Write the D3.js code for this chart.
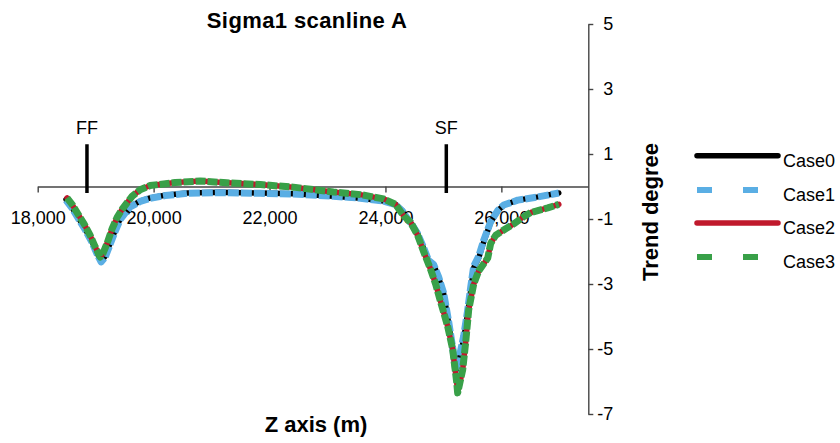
<!DOCTYPE html>
<html>
<head>
<meta charset="utf-8">
<script src="https://cdn.jsdelivr.net/npm/d3@7"></script>
<style>
  html, body { margin: 0; padding: 0; background: #fff; }
  svg { display: block; font-family: "Liberation Sans", Arial, Helvetica, sans-serif; }
</style>
</head>
<body>
<svg id="chart" width="840" height="443"></svg>
<script>
// ---------- data ----------
const seriesNames = ["Case0", "Case1", "Case2", "Case3"];

const zCase0 = [18489,18593,18696,18817,18938,19025,19094,19163,19249,19336,19422,19509,19595,19768,19941,20200,20580,21150,21841,22411,23103,23569,23967,24174,24295,24382,24468,24555,24658,24745,24831,24917,25004,25090,25159,25211,25263,25350,25419,25471,25523,25609,25696,25816,25937,26041,26283,26628,26991];
const vCase0 = [-0.40,-0.65,-0.95,-1.30,-1.70,-2.05,-2.30,-2.15,-1.75,-1.35,-1.00,-0.80,-0.62,-0.45,-0.35,-0.27,-0.20,-0.18,-0.20,-0.22,-0.30,-0.36,-0.45,-0.55,-0.75,-1.00,-1.20,-1.45,-1.90,-2.30,-2.40,-2.80,-3.30,-4.20,-5.00,-5.70,-5.40,-4.70,-3.90,-3.20,-2.50,-2.20,-1.70,-1.10,-0.75,-0.57,-0.42,-0.32,-0.20];

const zCase1 = [18489,18593,18696,18817,18938,19025,19094,19163,19249,19336,19422,19509,19595,19768,19941,20200,20580,21150,21841,22411,23103,23569,23967,24174,24295,24382,24468,24555,24658,24745,24831,24917,25004,25090,25159,25211,25263,25350,25419,25471,25523,25609,25696,25816,25937,26041,26283,26628,26991];
const vCase1 = [-0.42,-0.67,-0.97,-1.32,-1.72,-2.08,-2.32,-2.18,-1.78,-1.38,-1.02,-0.82,-0.63,-0.46,-0.36,-0.28,-0.21,-0.19,-0.21,-0.23,-0.30,-0.36,-0.45,-0.56,-0.76,-1.00,-1.20,-1.45,-1.88,-2.28,-2.40,-2.78,-3.28,-4.15,-4.95,-5.65,-5.35,-4.60,-3.80,-3.10,-2.45,-2.15,-1.65,-1.08,-0.74,-0.57,-0.42,-0.32,-0.20];

const zCase2 = [18506,18593,18696,18800,18904,18990,19077,19128,19197,19284,19370,19457,19543,19630,19768,19941,20372,20804,21201,21841,22411,23103,23569,23967,24174,24313,24434,24555,24658,24779,24866,24952,25073,25159,25228,25246,25332,25384,25436,25523,25609,25765,25816,25903,26075,26214,26369,26507,26801,26991];
const vCase2 = [-0.35,-0.55,-0.85,-1.15,-1.50,-1.85,-2.17,-2.05,-1.75,-1.30,-0.95,-0.70,-0.50,-0.30,-0.10,0.03,0.12,0.17,0.12,0.06,-0.02,-0.17,-0.25,-0.38,-0.55,-0.90,-1.10,-1.50,-2.00,-2.55,-3.00,-3.55,-4.30,-5.00,-6.00,-6.35,-5.65,-4.80,-3.80,-3.00,-2.60,-2.20,-1.75,-1.50,-1.30,-1.15,-0.95,-0.80,-0.66,-0.55];

const zCase3 = [18506,18593,18696,18800,18904,18990,19077,19128,19197,19284,19370,19457,19543,19630,19768,19941,20372,20804,21201,21841,22411,23103,23569,23967,24174,24313,24434,24555,24658,24779,24866,24952,25073,25159,25228,25246,25332,25384,25436,25523,25609,25765,25816,25903,26075,26214,26369,26507,26801,26991];
const vCase3 = [-0.35,-0.55,-0.85,-1.15,-1.50,-1.85,-2.17,-2.05,-1.75,-1.30,-0.95,-0.70,-0.50,-0.30,-0.10,0.03,0.12,0.17,0.12,0.06,-0.02,-0.17,-0.25,-0.38,-0.55,-0.90,-1.10,-1.50,-2.00,-2.55,-3.00,-3.55,-4.30,-5.00,-6.00,-6.35,-5.65,-4.80,-3.80,-3.00,-2.60,-2.20,-1.75,-1.50,-1.30,-1.15,-0.95,-0.80,-0.66,-0.55];

const xTickValues = [18000, 20000, 22000, 24000, 26000];
const yTickValues = [-7, -5, -3, -1, 1, 3, 5];

const faultNames = ["FF", "SF"];
const faultZ = [18850, 25050];
const faultTop = 1.3, faultBottom = -0.2, faultLabelAt = 1.8;

const titleText = "Sigma1 scanline A";
const xTitle = "Z axis (m)";
const yTitle = "Trend degree";

// ---------- styles ----------
const styles = [
  { color: "#000000", width: 5.5, dash: null, legendDash: null, cap: "round" },
  { color: "#5aaee4", width: 7, dash: "11,2", legendDash: "15,31", cap: "butt" },
  { color: "#c0192c", width: 5.5, dash: null, legendDash: null, cap: "round" },
  { color: "#38a048", width: 7, dash: "10,2", legendDash: "15,31", cap: "butt" }
];

const svg = d3.select("#chart");
const x = d3.scaleLinear().domain([18000, 27500]).range([37.7, 588.3]);
const y = d3.scaleLinear().domain([-7, 5]).range([414, 24]);
const fmtComma = d3.format(",");

// x axis at y=0
const xAxisG = svg.append("g")
  .attr("transform", `translate(0,${y(0)})`)
  .call(d3.axisBottom(x).tickValues(xTickValues).tickFormat(d => fmtComma(d)).tickSize(6).tickSizeOuter(0).tickPadding(19));
xAxisG.select(".domain").attr("stroke", "#444").attr("stroke-width", 1.4);
xAxisG.selectAll(".tick line").attr("stroke", "#444").attr("stroke-width", 1.4);
xAxisG.selectAll(".tick text").attr("font-size", 18).attr("fill", "#000")
  .attr("font-family", "'Liberation Sans', Arial, sans-serif");

// y axis on the right
const yAxisG = svg.append("g")
  .attr("transform", `translate(${x(27500)},0)`)
  .call(d3.axisRight(y).tickValues(yTickValues).tickFormat(d => String(d)).tickSize(5).tickSizeOuter(0));
yAxisG.select(".domain").attr("stroke", "#444").attr("stroke-width", 1.4);
yAxisG.selectAll(".tick line").attr("stroke", "#444").attr("stroke-width", 1.4);
yAxisG.selectAll(".tick text").attr("font-size", 18).attr("fill", "#000")
  .attr("text-anchor", "end").attr("x", 25)
  .attr("font-family", "'Liberation Sans', Arial, sans-serif");

// fault markers
faultZ.forEach((fz, i) => {
  svg.append("line")
    .attr("x1", x(fz)).attr("x2", x(fz))
    .attr("y1", y(faultTop)).attr("y2", y(faultBottom))
    .attr("stroke", "#000").attr("stroke-width", 3.5);
  svg.append("text")
    .attr("x", x(fz)).attr("y", y(faultLabelAt)).attr("dy", "0.35em")
    .attr("text-anchor", "middle").attr("font-size", 18)
    .text(faultNames[i]);
});

// series
const zs = [zCase0, zCase1, zCase2, zCase3];
const vs = [vCase0, vCase1, vCase2, vCase3];
const line = d3.line().x(d => x(d[0])).y(d => y(d[1]));
seriesNames.forEach((name, i) => {
  const pts = zs[i].map((z, k) => [z, vs[i][k]]);
  const st = styles[i];
  svg.append("path")
    .attr("d", line(pts))
    .attr("fill", "none")
    .attr("stroke", st.color)
    .attr("stroke-width", st.width)
    .attr("stroke-linejoin", "round")
    .attr("stroke-linecap", st.cap)
    .attr("stroke-dasharray", st.dash);
});

// legend
const legendY = [155.7, 190, 223, 257];
seriesNames.forEach((name, i) => {
  const st = styles[i];
  svg.append("line")
    .attr("x1", 697).attr("x2", st.legendDash ? 787 : 778)
    .attr("y1", legendY[i]).attr("y2", legendY[i])
    .attr("stroke", st.color)
    .attr("stroke-width", st.legendDash ? 6 : 5.5)
    .attr("stroke-linecap", st.legendDash ? "butt" : "round")
    .attr("stroke-dasharray", st.legendDash);
  svg.append("text")
    .attr("x", 783).attr("y", legendY[i] + 11)
    .attr("font-size", 18)
    .text(name);
});

// titles
svg.append("text")
  .attr("x", 307).attr("y", 28)
  .attr("text-anchor", "middle").attr("font-size", 22).attr("font-weight", "bold")
  .attr("letter-spacing", 0.4)
  .text(titleText);
svg.append("text")
  .attr("x", 316).attr("y", 432)
  .attr("text-anchor", "middle").attr("font-size", 22).attr("font-weight", "bold")
  .text(xTitle);
svg.append("text")
  .attr("transform", `translate(658,212) rotate(-90)`)
  .attr("text-anchor", "middle").attr("font-size", 22).attr("font-weight", "bold")
  .text(yTitle);
</script>
</body>
</html>
